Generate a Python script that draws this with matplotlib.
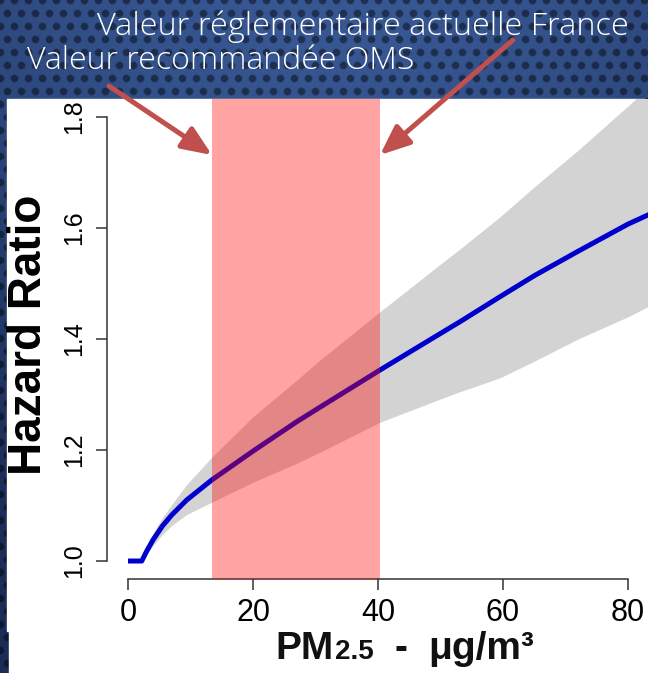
import numpy as np
import matplotlib
matplotlib.use("Agg")
import matplotlib.pyplot as plt
from matplotlib.patches import Rectangle, Circle
from matplotlib.offsetbox import TextArea, HPacker, AnnotationBbox

plt.rcParams['font.family'] = ['Liberation Sans', 'DejaVu Sans']

# PM2.5 concentration (ug/m3) and hazard ratio with its confidence band
pm25 = [0, 2.2, 3, 4, 5.5, 7, 9.4, 13.4, 20, 27, 30.7, 40.3, 50, 53.1, 59.5, 65, 72, 80, 83.5]
hr = [1.0, 1.0, 1.018, 1.038, 1.063, 1.083, 1.110, 1.146, 1.198, 1.251, 1.277, 1.344,
      1.410, 1.431, 1.476, 1.514, 1.558, 1.607, 1.625]
hr_hi = [1.0, 1.0, 1.025, 1.050, 1.078, 1.102, 1.138, 1.187, 1.26, 1.326, 1.362, 1.449,
         1.535, 1.562, 1.62, 1.674, 1.74, 1.82, 1.855]
hr_lo = [1.0, 1.0, 1.012, 1.028, 1.048, 1.064, 1.084, 1.106, 1.142, 1.176, 1.196, 1.25,
         1.292, 1.305, 1.33, 1.36, 1.40, 1.44, 1.46]

# shaded range between the two reference values
zone = (13.45, 40.3)

xticks = [0, 20, 40, 60, 80]
yticks = [1.0, 1.2, 1.4, 1.6, 1.8]

label_oms = "Valeur recommandée OMS"
label_fr = "Valeur réglementaire actuelle France"

W, H = 648, 673
fig = plt.figure(figsize=(W / 100, H / 100), dpi=100)

# dotted navy background
yy, xx = np.mgrid[0:H, 0:W]
light = np.array([56, 88, 148]) / 255
dark = np.array([26, 45, 86]) / 255
g = np.exp(-((xx - 330) / 520.0) ** 2 - (yy / 320.0) ** 2)
g = np.clip(g, 0, 1)[..., None]
bg = dark + (light - dark) * g
dxa = ((xx + 7) % 14) - 7
dya = ((yy + 13) % 26) - 13
dxb = (xx % 14) - 7
dyb = (yy % 26) - 13
d = np.minimum(np.hypot(dxa, dya), np.hypot(dxb, dyb))
dots = np.clip((4.5 - d) / 1.5, 0, 1)[..., None]
bg = bg * (1 - 0.45 * dots)
bax = fig.add_axes([0, 0, 1, 1])
bax.imshow(bg, extent=[0, W, 0, H], aspect='auto', zorder=0)
bax.set_xlim(0, W)
bax.set_ylim(0, H)
bax.axis('off')

# white chart panel
bax.add_patch(Rectangle((7, H - 631), W - 7, 631 - 99, color='white', zorder=1))
bax.add_patch(Rectangle((9, 0), W - 9, H - 630, color='white', zorder=1))

# plot area in pixel positions
left, right, bottom, top = 107, 648, 579, 99
ax = fig.add_axes([left / W, (H - bottom) / H, (right - left) / W, (bottom - top) / H])
ax.patch.set_visible(False)
ax.set_xlim(-3.36, 83.2)
ax.set_ylim(0.9676, 1.8324)

ax.fill_between(pm25, hr_lo, hr_hi, color='#d3d3d3', lw=0, zorder=1)
ax.plot(pm25, hr, color='#0000cd', lw=3.6, solid_capstyle='butt',
        solid_joinstyle='round', zorder=2)
ax.axvspan(zone[0], zone[1], color='red', alpha=0.36, lw=0, zorder=3)

for s in ['top', 'right']:
    ax.spines[s].set_visible(False)
ax.spines['left'].set_bounds(1.0, 1.8)
ax.spines['bottom'].set_bounds(0, 80)
for s in ['left', 'bottom']:
    ax.spines[s].set_color('#333333')
    ax.spines[s].set_linewidth(1.1)
ax.set_xticks(xticks)
ax.set_xticklabels([str(v) for v in xticks])
ax.set_yticks(yticks)
ax.set_yticklabels(['%.1f' % v for v in yticks], rotation=90, va='center')
ax.tick_params(axis='x', length=8, width=1.1, color='#333333', labelsize=22, pad=6)
ax.tick_params(axis='y', length=8, width=1.1, color='#333333', labelsize=18, pad=7)

fig.text(29 / W, 1 - 335 / H, "Hazard Ratio", rotation=90, fontsize=33,
         fontweight='bold', ha='center', va='center')

# x axis label: PM with smaller 2.5 on the same baseline
tp = dict(fontsize=28, fontweight='bold', color='#111111')
pm = HPacker(children=[TextArea("PM", textprops=tp),
                       TextArea("2.5", textprops=dict(tp, fontsize=20))],
             align="baseline", pad=0, sep=1)
unit = HPacker(children=[TextArea("-", textprops=tp),
                         TextArea("μg/m³", textprops=tp)],
               align="baseline", pad=0, sep=15)
pack = HPacker(children=[pm, unit], align="baseline", pad=0, sep=15)
ab = AnnotationBbox(pack, (405, H - 649), xycoords='figure pixels', frameon=False,
                    box_alignment=(0.5, 0.5))
fig.add_artist(ab)

# annotations on the top band
fig.text(97 / W, 1 - 35 / H, label_fr, color='white', fontsize=23.4,
         family='Open Sans', fontweight='light', va='baseline')
fig.text(27 / W, 1 - 69 / H, label_oms, color='white', fontsize=23.0,
         family='Open Sans', fontweight='light', va='baseline')

arrow = dict(arrowstyle='-|>,head_length=1.0,head_width=0.42', lw=3.6,
             color='#c0504d', shrinkA=0, shrinkB=0, mutation_scale=18)
bax.annotate('', xy=(212, H - 155), xytext=(109, H - 86), arrowprops=arrow, zorder=10)
bax.annotate('', xy=(380, H - 155), xytext=(513, H - 40), arrowprops=arrow, zorder=10)

# small magnifier cursor in the corner
bax.plot([638, 647], [H - 110, H - 101], color='black', lw=4, zorder=11, solid_capstyle='round')
bax.plot([638, 647], [H - 110, H - 101], color='#8c8c8c', lw=2, zorder=11, solid_capstyle='round')
bax.add_patch(Circle((633, H - 115), 7.5, facecolor='#a9d3f2', edgecolor='black', lw=1.5, zorder=12))

# keep the background axes below the plot
bax.set_zorder(0)
ax.set_zorder(1)
fig.savefig("out.png", dpi=100)
